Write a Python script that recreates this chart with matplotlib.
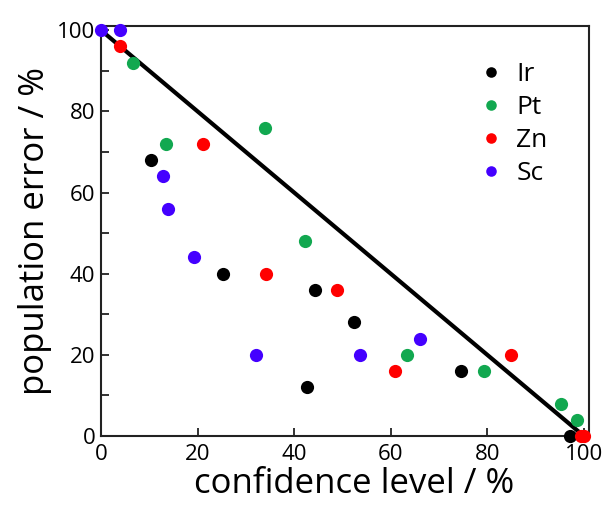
import matplotlib
matplotlib.use('Agg')
import matplotlib.pyplot as plt
from matplotlib.ticker import MultipleLocator

plt.rcParams['font.family'] = ['Open Sans', 'DejaVu Sans']

series = ['Ir', 'Pt', 'Zn', 'Sc']
colors = ['#000000', '#12a850', '#ff0000', '#4400ff']

ir_x = [10.3, 25.3, 44.4, 42.7, 52.3, 74.5, 97.2]
ir_y = [68, 40, 36, 12, 28, 16, 0]

pt_x = [6.6, 13.5, 33.9, 42.2, 63.4, 79.4, 95.2, 98.6]
pt_y = [92, 72, 76, 48, 20, 16, 8, 4]

zn_x = [4.0, 21.1, 34.1, 48.9, 60.9, 85.0, 100.0, 99.5]
zn_y = [96, 72, 40, 36, 16, 20, 0, 0]

sc_x = [0.0, 4.0, 12.8, 13.9, 19.3, 32.2, 53.7, 66.0]
sc_y = [100, 100, 64, 56, 44, 20, 20, 24]

line_x = [0, 100]
line_y = [100, 0]

fig = plt.figure(figsize=(6.12, 5.13), dpi=100)
ax = fig.add_axes([0.165, 0.150, 0.797, 0.799])

ax.plot(line_x, line_y, color='black', lw=3, zorder=2, solid_capstyle='butt')

data = [(ir_x, ir_y), (pt_x, pt_y), (zn_x, zn_y), (sc_x, sc_y)]
for name, c, (xs, ys) in zip(series, colors, data):
    ax.plot(xs, ys, 'o', color=c, ms=9.5, mec='none', label=name,
            zorder=3, clip_on=False)

ax.set_xlim(0, 101)
ax.set_ylim(0, 101)
ax.set_xticks([0, 20, 40, 60, 80, 100])
ax.set_yticks([0, 20, 40, 60, 80, 100])
ax.yaxis.set_minor_locator(MultipleLocator(10))
ax.tick_params(which='both', direction='in', length=6, width=1.3,
               labelsize=16, pad=4, colors='#222222', labelcolor='black')
ax.tick_params(axis='x', pad=6)
for s in ax.spines.values():
    s.set_linewidth(1.5)
    s.set_color('#222222')

ax.set_xlabel('confidence level / %', fontsize=25)
ax.set_ylabel('population error / %', fontsize=25, labelpad=4)
ax.xaxis.set_label_coords(0.518, -0.076, transform=ax.transAxes)

ax.legend(loc='upper left', bbox_to_anchor=(0.768, 0.912), frameon=False,
          fontsize=19, handletextpad=0.35, labelspacing=0.3,
          handlelength=1.2, borderaxespad=0, borderpad=0, markerscale=0.8)

fig.savefig('out.png', dpi=100)
